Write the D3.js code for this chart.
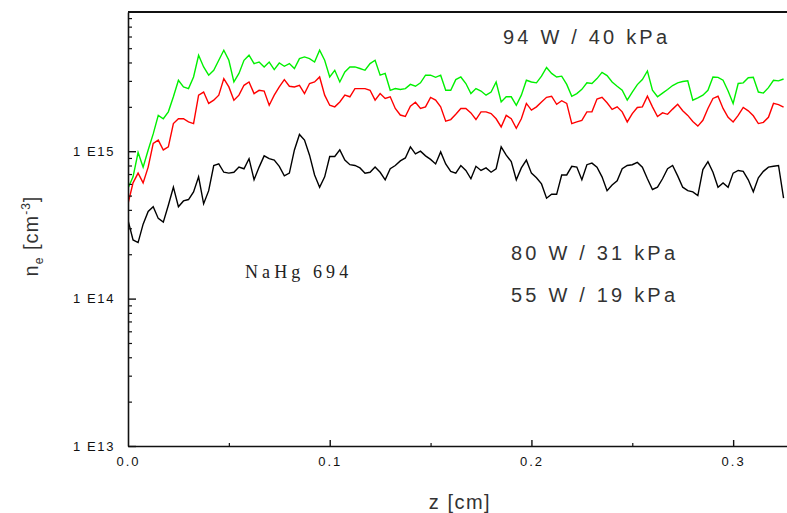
<!DOCTYPE html>
<html>
<head>
<meta charset="utf-8">
<script src="https://cdn.jsdelivr.net/npm/d3@7"></script>
<style>
  html, body { margin: 0; padding: 0; background: #fff; }
  svg { display: block; }
  .tick text { font-family: "Liberation Sans", Arial, sans-serif; }
</style>
</head>
<body>
<svg id="chart" width="787" height="513"></svg>
<script>
// Electron density along the axial coordinate z, NaHg 694 lamp, three operating points.
// Densities in units of 1E15 cm^-3, sampled every zStep cm starting at z = 0.
const zStep = 0.0025;

const ne94W = [
  0.56,0.67,0.98,0.78,1.02,1.31,1.75,1.66,1.85,2.34,
  3.03,2.73,2.66,3.19,4.48,3.73,3.28,3.54,4.14,4.84,
  4.14,2.95,3.37,4.14,4.48,3.93,4.03,3.73,4.03,3.58,
  3.97,3.77,3.93,3.64,4.25,4.36,4.25,4.03,4.84,4.14,
  3.19,3.54,2.95,3.45,3.73,3.73,3.64,3.54,3.93,4.14,
  3.28,3.37,2.59,2.66,2.62,2.66,2.84,2.76,2.91,3.28,
  3.28,3.17,3.28,2.59,2.59,3.06,3.19,2.88,2.46,2.66,
  2.56,2.40,2.52,2.95,2.16,2.34,2.34,2.05,2.40,3.03,
  2.95,2.91,3.23,3.70,3.37,3.19,3.23,2.84,2.36,2.46,
  2.63,2.91,2.88,3.11,3.43,3.26,2.95,2.76,2.59,2.22,
  2.52,2.83,3.06,3.50,2.59,2.34,2.48,2.62,2.79,2.91,
  2.97,3.00,2.22,2.30,2.40,2.59,3.19,3.17,3.03,2.56,
  2.11,2.88,2.91,3.15,3.17,2.52,2.48,2.70,3.03,3.00,
  3.09
];

const ne80W = [
  0.44,0.61,0.71,0.61,0.78,1.13,1.19,1.02,1.07,1.54,
  1.66,1.66,1.58,1.54,2.40,2.52,2.11,2.22,2.40,3.11,
  2.73,2.22,2.40,2.80,2.95,2.46,2.59,2.56,2.05,2.40,
  2.73,3.06,2.76,2.73,2.80,2.46,2.88,2.95,3.19,2.40,
  2.05,2.00,2.16,2.40,2.34,2.66,2.66,2.66,2.59,2.22,
  2.46,2.28,2.34,1.95,1.76,1.72,2.02,2.15,1.95,2.00,
  2.32,2.22,2.00,1.60,1.64,1.78,1.95,1.95,1.82,1.64,
  1.85,1.85,1.80,1.66,1.46,1.75,1.66,1.43,1.66,2.11,
  1.90,2.00,2.16,2.32,2.36,2.08,2.20,2.11,1.54,1.58,
  1.62,1.85,1.85,2.26,2.32,2.13,1.92,2.00,1.85,1.58,
  1.80,1.98,2.00,2.36,2.00,1.72,1.82,1.78,1.93,2.08,
  1.88,1.75,1.59,1.48,1.62,1.95,2.28,2.36,1.95,1.70,
  1.58,1.75,1.98,1.88,1.74,1.54,1.57,1.70,2.11,2.07,
  1.99
];

const ne55W = [
  0.34,0.25,0.24,0.32,0.39,0.42,0.35,0.33,0.43,0.57,
  0.42,0.46,0.47,0.53,0.67,0.44,0.54,0.80,0.82,0.72,
  0.71,0.72,0.78,0.76,0.89,0.64,0.78,0.93,0.89,0.87,
  0.79,0.68,0.71,1.02,1.30,1.19,0.94,0.69,0.57,0.67,
  0.92,0.92,1.02,0.87,0.81,0.80,0.77,0.71,0.72,0.78,
  0.72,0.64,0.76,0.80,0.86,0.90,1.07,0.96,1.00,0.93,
  0.88,0.82,0.99,0.82,0.73,0.71,0.80,0.74,0.65,0.79,
  0.74,0.77,0.72,0.76,1.07,0.94,0.85,0.64,0.77,0.87,
  0.71,0.66,0.60,0.48,0.51,0.51,0.69,0.69,0.79,0.78,
  0.64,0.81,0.83,0.78,0.67,0.54,0.59,0.63,0.76,0.80,
  0.81,0.84,0.78,0.65,0.55,0.57,0.65,0.76,0.80,0.68,
  0.57,0.54,0.53,0.50,0.75,0.85,0.72,0.57,0.61,0.57,
  0.71,0.74,0.73,0.64,0.53,0.66,0.73,0.78,0.79,0.80,
  0.48
];

const seriesColors = ["#00f000", "#ff0000", "#000000"];
const xMajorTicks = [0, 0.1, 0.2, 0.3];
const xMinorTicks = [0.05, 0.15, 0.25];
const yMajorTicks = [1e13, 1e14, 1e15];
const yTickLabels = ["1 E13", "1 E14", "1 E15"];
const annotations = [
  { text: "94 W / 40 kPa", x: 503, y: 44 },
  { text: "80 W / 31 kPa", x: 511, y: 260 },
  { text: "55 W / 19 kPa", x: 511, y: 302 }
];

const svg = d3.select("#chart");
const plot = { left: 128, right: 787, top: 12, bottom: 446 };

const x = d3.scaleLinear().domain([0, 0.3267]).range([plot.left, plot.right]);
const y = d3.scaleLog().domain([1e13, 8.8e15]).range([plot.bottom, plot.top]);

// Minor log ticks 2..9 within each decade
const yMinorTicks = [];
[13, 14, 15].forEach(e => {
  for (let k = 2; k <= 9; k++) {
    const v = k * Math.pow(10, e);
    if (v < y.domain()[1]) yMinorTicks.push(v);
  }
});

// Curves
const series = [ne94W, ne80W, ne55W];
const line = d3.line()
  .x((d, i) => x(i * zStep))
  .y(d => y(d * 1e15));

svg.append("clipPath").attr("id", "plotClip")
  .append("rect")
  .attr("x", plot.left).attr("y", plot.top)
  .attr("width", plot.right - plot.left).attr("height", plot.bottom - plot.top);

const curves = svg.append("g").attr("clip-path", "url(#plotClip)");
series.forEach((s, k) => {
  curves.append("path")
    .datum(s)
    .attr("fill", "none")
    .attr("stroke", seriesColors[k])
    .attr("stroke-width", 1.4)
    .attr("d", line);
});

// Y axis (ticks pointing into the plot)
const yAxis = svg.append("g")
  .attr("transform", `translate(${plot.left},0)`)
  .call(d3.axisLeft(y)
    .tickValues(yMajorTicks)
    .tickFormat((d, i) => yTickLabels[i])
    .tickSizeInner(-8)
    .tickSizeOuter(0)
    .tickPadding(13));
yAxis.select(".domain").attr("stroke", "#111").attr("stroke-width", 1.6);
yAxis.selectAll(".tick line").attr("stroke", "#111").attr("stroke-width", 1.4);
yAxis.selectAll(".tick text")
  .attr("font-size", 13)
  .attr("letter-spacing", "1.6px")
  .attr("fill", "#111");

svg.append("g")
  .attr("transform", `translate(${plot.left},0)`)
  .call(d3.axisLeft(y).tickValues(yMinorTicks).tickFormat("").tickSizeInner(-4).tickSizeOuter(0))
  .call(g => g.select(".domain").remove())
  .selectAll(".tick line").attr("stroke", "#111").attr("stroke-width", 1.2);

// X axis (ticks pointing up into the plot)
const xAxis = svg.append("g")
  .attr("transform", `translate(0,${plot.bottom})`)
  .call(d3.axisBottom(x)
    .tickValues(xMajorTicks)
    .tickFormat(d3.format(".1f"))
    .tickSizeInner(-6)
    .tickSizeOuter(0)
    .tickPadding(11));
xAxis.select(".domain").attr("stroke", "#111").attr("stroke-width", 1.6);
xAxis.selectAll(".tick line").attr("stroke", "#111").attr("stroke-width", 1.4)
  .filter(d => d === 0).remove();
xAxis.selectAll(".tick text")
  .attr("font-size", 13)
  .attr("letter-spacing", "2px")
  .attr("fill", "#111");

svg.append("g")
  .attr("transform", `translate(0,${plot.bottom})`)
  .call(d3.axisBottom(x).tickValues(xMinorTicks).tickFormat("").tickSizeInner(-3).tickSizeOuter(0))
  .call(g => g.select(".domain").remove())
  .selectAll(".tick line").attr("stroke", "#111").attr("stroke-width", 1.2);

// Top frame line
svg.append("line")
  .attr("x1", plot.left).attr("x2", plot.right)
  .attr("y1", plot.top).attr("y2", plot.top)
  .attr("stroke", "#111").attr("stroke-width", 1.8);

// Axis titles
svg.append("text")
  .attr("x", 460).attr("y", 509)
  .attr("text-anchor", "middle")
  .attr("font-family", "Liberation Sans, Arial, sans-serif")
  .attr("font-size", 20)
  .attr("letter-spacing", "1.5px")
  .attr("fill", "#333")
  .text("z [cm]");

const yTitle = svg.append("text")
  .attr("transform", "translate(38,236) rotate(-90)")
  .attr("text-anchor", "middle")
  .attr("font-family", "Liberation Sans, Arial, sans-serif")
  .attr("font-size", 20)
  .attr("letter-spacing", "1px")
  .attr("fill", "#333");
yTitle.append("tspan").text("n");
yTitle.append("tspan").attr("font-size", 12).attr("dy", 5).text("e");
yTitle.append("tspan").attr("dy", -5).text(" [cm");
yTitle.append("tspan").attr("font-size", 12).attr("dy", -8).text("-3");
yTitle.append("tspan").attr("dy", 8).text("]");

// Operating-point labels
svg.append("g").selectAll("text")
  .data(annotations)
  .join("text")
  .attr("x", d => d.x).attr("y", d => d.y)
  .attr("font-family", "Liberation Sans, Arial, sans-serif")
  .attr("font-size", 20)
  .attr("letter-spacing", "3.2px")
  .attr("fill", "#333")
  .text(d => d.text);

svg.append("text")
  .attr("x", 245).attr("y", 278)
  .attr("font-family", "Liberation Serif, 'Times New Roman', serif")
  .attr("font-size", 18)
  .attr("letter-spacing", "4.1px")
  .attr("fill", "#222")
  .text("NaHg 694");
</script>
</body>
</html>
